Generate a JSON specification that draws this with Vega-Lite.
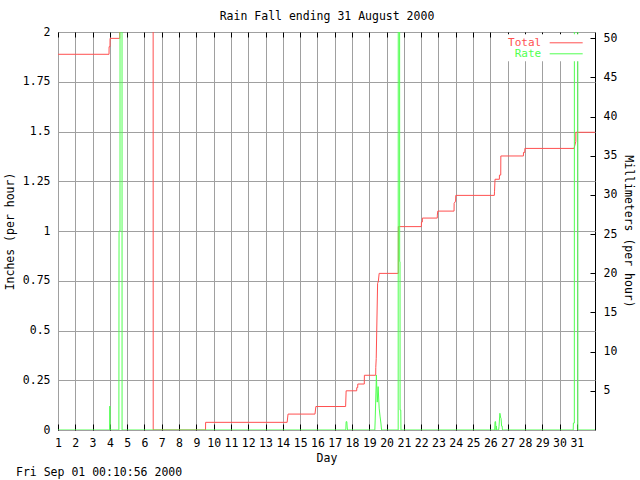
{
  "$schema": "https://vega.github.io/schema/vega-lite/v6.json",
  "autosize": {"type": "none"},
  "width": 537,
  "height": 398,
  "padding": {"left": 58, "top": 32, "right": 45, "bottom": 50},
  "background": "white",
  "config": {
    "font": "DejaVu Sans Mono",
    "view": {"stroke": "black", "strokeWidth": 1},
    "axis": {
      "labelFont": "DejaVu Sans Mono", "labelFontSize": 11.5, "labelColor": "black",
      "titleFont": "DejaVu Sans Mono", "titleFontSize": 11.5, "titleFontWeight": "normal", "titleColor": "black",
      "gridColor": "#a0a0a0", "gridOpacity": 1, "gridWidth": 1, "tickColor": "black", "tickWidth": 1,
      "domain": false, "labelFlush": false, "labelOverlap": false
    }
  },
  "title": {
    "text": "Fri Sep 01 00:10:56 2000", "orient": "bottom", "anchor": "start", "frame": "group",
    "dx": -42, "offset": 3, "font": "DejaVu Sans Mono", "fontSize": 11.5, "fontWeight": "normal", "color": "black"
  },
  "data": {"values": [
    {"day": 1.0, "value": 1.888, "series": "Total"},
    {"day": 3.95, "value": 1.888, "series": "Total"},
    {"day": 3.955, "value": 1.926, "series": "Total"},
    {"day": 4.005, "value": 1.926, "series": "Total"},
    {"day": 4.01, "value": 1.968, "series": "Total"},
    {"day": 4.57, "value": 1.968, "series": "Total"},
    {"day": 4.575, "value": 2.6, "series": "Total"},
    {"day": 6.5, "value": 2.6, "series": "Total"},
    {"day": 6.505, "value": 0, "series": "Total"},
    {"day": 9.53, "value": 0, "series": "Total"},
    {"day": 9.535, "value": 0.0385, "series": "Total"},
    {"day": 14.25, "value": 0.0385, "series": "Total"},
    {"day": 14.3, "value": 0.08, "series": "Total"},
    {"day": 15.86, "value": 0.08, "series": "Total"},
    {"day": 15.91, "value": 0.118, "series": "Total"},
    {"day": 17.63, "value": 0.118, "series": "Total"},
    {"day": 17.66, "value": 0.197, "series": "Total"},
    {"day": 18.27, "value": 0.197, "series": "Total"},
    {"day": 18.275, "value": 0.213, "series": "Total"},
    {"day": 18.33, "value": 0.213, "series": "Total"},
    {"day": 18.335, "value": 0.231, "series": "Total"},
    {"day": 18.71, "value": 0.231, "series": "Total"},
    {"day": 18.715, "value": 0.275, "series": "Total"},
    {"day": 19.37, "value": 0.275, "series": "Total"},
    {"day": 19.375, "value": 0.315, "series": "Total"},
    {"day": 19.4, "value": 0.36, "series": "Total"},
    {"day": 19.48, "value": 0.737, "series": "Total"},
    {"day": 19.52, "value": 0.745, "series": "Total"},
    {"day": 19.57, "value": 0.787, "series": "Total"},
    {"day": 20.676, "value": 0.787, "series": "Total"},
    {"day": 20.68, "value": 1.022, "series": "Total"},
    {"day": 22.01, "value": 1.022, "series": "Total"},
    {"day": 22.015, "value": 1.045, "series": "Total"},
    {"day": 22.065, "value": 1.045, "series": "Total"},
    {"day": 22.07, "value": 1.065, "series": "Total"},
    {"day": 22.93, "value": 1.065, "series": "Total"},
    {"day": 22.935, "value": 1.08, "series": "Total"},
    {"day": 22.96, "value": 1.1, "series": "Total"},
    {"day": 23.9, "value": 1.1, "series": "Total"},
    {"day": 23.905, "value": 1.139, "series": "Total"},
    {"day": 23.99, "value": 1.15, "series": "Total"},
    {"day": 24.0, "value": 1.179, "series": "Total"},
    {"day": 26.23, "value": 1.179, "series": "Total"},
    {"day": 26.24, "value": 1.2, "series": "Total"},
    {"day": 26.27, "value": 1.26, "series": "Total"},
    {"day": 26.52, "value": 1.26, "series": "Total"},
    {"day": 26.525, "value": 1.281, "series": "Total"},
    {"day": 26.6, "value": 1.281, "series": "Total"},
    {"day": 26.605, "value": 1.377, "series": "Total"},
    {"day": 27.91, "value": 1.377, "series": "Total"},
    {"day": 27.915, "value": 1.395, "series": "Total"},
    {"day": 27.99, "value": 1.395, "series": "Total"},
    {"day": 27.995, "value": 1.415, "series": "Total"},
    {"day": 30.84, "value": 1.415, "series": "Total"},
    {"day": 30.94, "value": 1.45, "series": "Total"},
    {"day": 30.945, "value": 1.496, "series": "Total"},
    {"day": 32.05, "value": 1.496, "series": "Total"},

    {"day": 1.0, "value": 0, "series": "Rate"},
    {"day": 3.99, "value": 0, "series": "Rate"},
    {"day": 4.0, "value": 0.12, "series": "Rate"},
    {"day": 4.01, "value": 0, "series": "Rate"},
    {"day": 4.52, "value": 0, "series": "Rate"},
    {"day": 4.53, "value": 1.0, "series": "Rate"},
    {"day": 4.585, "value": 1.0, "series": "Rate"},
    {"day": 4.59, "value": 3, "series": "Rate"},
    {"day": 4.7, "value": 3, "series": "Rate"},
    {"day": 4.705, "value": 0, "series": "Rate"},
    {"day": 17.64, "value": 0, "series": "Rate"},
    {"day": 17.66, "value": 0.042, "series": "Rate"},
    {"day": 17.7, "value": 0.042, "series": "Rate"},
    {"day": 17.72, "value": 0.015, "series": "Rate"},
    {"day": 17.74, "value": 0, "series": "Rate"},
    {"day": 19.32, "value": 0, "series": "Rate"},
    {"day": 19.34, "value": 0.05, "series": "Rate"},
    {"day": 19.41, "value": 0.276, "series": "Rate"},
    {"day": 19.46, "value": 0.14, "series": "Rate"},
    {"day": 19.51, "value": 0.218, "series": "Rate"},
    {"day": 19.57, "value": 0.11, "series": "Rate"},
    {"day": 19.62, "value": 0.07, "series": "Rate"},
    {"day": 19.67, "value": 0.035, "series": "Rate"},
    {"day": 19.71, "value": 0, "series": "Rate"},
    {"day": 20.67, "value": 0, "series": "Rate"},
    {"day": 20.676, "value": 3, "series": "Rate"},
    {"day": 20.75, "value": 3, "series": "Rate"},
    {"day": 20.756, "value": 0.846, "series": "Rate"},
    {"day": 20.775, "value": 0.846, "series": "Rate"},
    {"day": 20.78, "value": 0.1, "series": "Rate"},
    {"day": 20.82, "value": 0.1, "series": "Rate"},
    {"day": 20.83, "value": 0, "series": "Rate"},
    {"day": 26.25, "value": 0, "series": "Rate"},
    {"day": 26.27, "value": 0.042, "series": "Rate"},
    {"day": 26.3, "value": 0.042, "series": "Rate"},
    {"day": 26.33, "value": 0, "series": "Rate"},
    {"day": 26.35, "value": 0.02, "series": "Rate"},
    {"day": 26.37, "value": 0, "series": "Rate"},
    {"day": 26.48, "value": 0, "series": "Rate"},
    {"day": 26.5, "value": 0.017, "series": "Rate"},
    {"day": 26.55, "value": 0.084, "series": "Rate"},
    {"day": 26.6, "value": 0.06, "series": "Rate"},
    {"day": 26.62, "value": 0.058, "series": "Rate"},
    {"day": 26.65, "value": 0.02, "series": "Rate"},
    {"day": 26.68, "value": 0.02, "series": "Rate"},
    {"day": 26.7, "value": 0, "series": "Rate"},
    {"day": 30.79, "value": 0, "series": "Rate"},
    {"day": 30.8, "value": 0.035, "series": "Rate"},
    {"day": 30.855, "value": 0.035, "series": "Rate"},
    {"day": 30.86, "value": 3, "series": "Rate"},
    {"day": 31.055, "value": 3, "series": "Rate"},
    {"day": 31.06, "value": 0, "series": "Rate"},
    {"day": 32.05, "value": 0, "series": "Rate"}
  ]},
  "layer": [
    {
      "mark": {"type": "line", "clip": true, "strokeWidth": 1, "interpolate": "linear"},
      "encoding": {
        "x": {
          "field": "day", "type": "quantitative",
          "scale": {"domain": [1, 32.05], "nice": false, "zero": false},
          "axis": {
            "orient": "bottom",
            "values": [1,2,3,4,5,6,7,8,9,10,11,12,13,14,15,16,17,18,19,20,21,22,23,24,25,26,27,28,29,30,31],
            "format": "d", "grid": true, "tickSize": -6, "labelPadding": 13,
            "title": "Day", "titlePadding": 4
          }
        },
        "y": {
          "field": "value", "type": "quantitative",
          "scale": {"domain": [0, 2], "nice": false, "zero": true},
          "axis": {
            "values": [0, 0.25, 0.5, 0.75, 1, 1.25, 1.5, 1.75, 2],
            "labelExpr": "toString(datum.value)", "grid": true, "ticks": false, "labelPadding": 8,
            "title": "Inches (per hour)", "titlePadding": 7
          }
        },
        "color": {
          "field": "series", "type": "nominal",
          "scale": {"domain": ["Total", "Rate"], "range": ["#ff5050", "#50ff50"]},
          "legend": {
            "orient": "none", "legendX": 447.7, "legendY": 2.3,
            "title": null, "fillColor": "white", "padding": 2.5,
            "symbolType": "M 6.45 0 H 12.45", "symbolSize": 121, "symbolStrokeWidth": 1,
            "labelAlign": "right", "labelOffset": 21, "labelBaseline": "middle",
            "labelFont": "DejaVu Sans Mono", "labelFontSize": 11, "rowPadding": 0,
            "encode": {"labels": {"update": {"fill": {"scale": "color", "field": "value"}}}}
          }
        }
      }
    },
    {
      "mark": {"type": "point", "opacity": 0},
      "encoding": {
        "x": {
          "datum": 1, "type": "quantitative",
          "axis": {
            "orient": "top",
            "values": [1,2,3,4,5,6,7,8,9,10,11,12,13,14,15,16,17,18,19,20,21,22,23,24,25,26,27,28,29,30,31],
            "labels": false, "grid": false, "tickSize": -5,
            "title": "Rain Fall ending 31 August 2000", "titlePadding": 10
          }
        },
        "y": {
          "datum": 0, "type": "quantitative",
          "scale": {"domain": [0, 50.8], "nice": false, "zero": true},
          "axis": {
            "orient": "right",
            "values": [5, 10, 15, 20, 25, 30, 35, 40, 45, 50],
            "grid": false, "tickSize": -5, "labelPadding": 13,
            "title": "Millimeters (per hour)", "titleAngle": 90, "titlePadding": 6
          }
        }
      }
    }
  ],
  "resolve": {"scale": {"y": "independent"}, "axis": {"x": "independent", "y": "independent"}}
}
